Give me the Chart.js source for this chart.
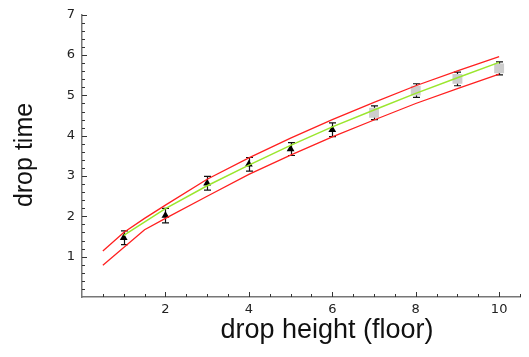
<!DOCTYPE html>
<html>
<head>
<meta charset="utf-8">
<script src="https://cdn.jsdelivr.net/npm/chart.js@4"></script>
<style>
  html, body { margin: 0; padding: 0; background: #fff; }
  #wrap { width: 529px; height: 357px; }
</style>
</head>
<body>
<div id="wrap"><canvas id="c"></canvas></div>
<script>
// measured points (floor number -> drop time)
var triFloors = [1, 2, 3, 4, 5, 6];
var triTimes = [1.47, 2.02, 2.82, 3.29, 3.67, 4.15];
var triErrors = [0.17, 0.18, 0.17, 0.17, 0.16, 0.17];

var sqFloors = [7, 8, 9, 10];
var sqTimes = [4.57, 5.12, 5.41, 5.67];
var sqErrors = [0.17, 0.17, 0.17, 0.16];

// fitted curve and the two bounding curves
var fitX = [1, 2, 3, 4, 5, 6, 7, 8, 9, 10];
var fitY = [1.53, 2.19, 2.76, 3.27, 3.76, 4.22, 4.64, 5.05, 5.44, 5.82];

var upperX = [0.5, 1, 1.5, 2, 3, 4, 5, 6, 7, 8, 9, 10];
var upperY = [1.14, 1.60, 1.95, 2.28, 2.92, 3.45, 3.94, 4.40, 4.83, 5.24, 5.61, 5.96];
var lowerX = [0.5, 1.5, 2, 3, 4, 5, 6, 7, 8, 9, 10];
var lowerY = [0.79, 1.67, 1.95, 2.50, 3.04, 3.52, 3.97, 4.39, 4.80, 5.17, 5.53];

// axis labels
var xTickValues = [2, 4, 6, 8, 10];
var yTickValues = [1, 2, 3, 4, 5, 6, 7];
var xTitle = 'drop height (floor)';
var yTitle = 'drop time';

function toPoints(xs, ys)
{
    var pts = [];
    for (var i = 0; i < xs.length; i++) pts.push({x: xs[i], y: ys[i]});
    return pts;
}

function toTicks(values)
{
    return values.map(function(v) { return {value: v}; });
}

// error bars, drawn under the markers
var errorBars = {
    id: 'errorBars',
    beforeDatasetsDraw: function(chart)
    {
        var ctx = chart.ctx;
        var xs = chart.scales.x, ys = chart.scales.y;
        var sets = [[triFloors, triTimes, triErrors], [sqFloors, sqTimes, sqErrors]];
        ctx.save();
        ctx.strokeStyle = '#111';
        ctx.lineWidth = 1.2;
        for (var s = 0; s < sets.length; s++)
        {
            var fx = sets[s][0], fy = sets[s][1], fe = sets[s][2];
            for (var i = 0; i < fx.length; i++)
            {
                var px = Math.round(xs.getPixelForValue(fx[i])) + 0.5;
                var top = ys.getPixelForValue(fy[i] + fe[i]);
                var bot = ys.getPixelForValue(fy[i] - fe[i]);
                ctx.beginPath();
                ctx.moveTo(px, top); ctx.lineTo(px, bot);
                ctx.moveTo(px - 3.5, top); ctx.lineTo(px + 3.5, top);
                ctx.moveTo(px - 3.5, bot); ctx.lineTo(px + 3.5, bot);
                ctx.stroke();
            }
        }
        ctx.restore();
    }
};

// inward tick marks on both axes, plus the two axis titles
var axisExtras = {
    id: 'axisExtras',
    afterDraw: function(chart)
    {
        var ctx = chart.ctx;
        var xs = chart.scales.x, ys = chart.scales.y;
        var area = chart.chartArea;
        ctx.save();
        ctx.strokeStyle = '#333';
        ctx.lineWidth = 1;
        ctx.beginPath();
        for (var v = 0.5; v <= 10.5; v += 0.5)
        {
            var px = Math.round(xs.getPixelForValue(v)) + 0.5;
            var len = (v % 2 === 0) ? 5 : 3;
            ctx.moveTo(px, area.bottom); ctx.lineTo(px, area.bottom - len);
        }
        for (var k = 1; k <= 35; k++)
        {
            var py = Math.round(ys.getPixelForValue(k * 0.2)) + 0.5;
            var ylen = (k % 5 === 0) ? 5 : 3;
            ctx.moveTo(area.left, py); ctx.lineTo(area.left + ylen, py);
        }
        ctx.stroke();

        ctx.fillStyle = '#111';
        ctx.textAlign = 'center';
        ctx.textBaseline = 'alphabetic';
        ctx.font = '27px "Liberation Sans"';
        ctx.fillText(xTitle, 327, 338);

        ctx.translate(32, 155);
        ctx.rotate(-Math.PI / 2);
        ctx.font = '25px "Liberation Sans"';
        ctx.fillText(yTitle, 0, 0);
        ctx.restore();
    }
};

var tickFont = {family: 'DejaVu Sans', size: 13};

var chart = new Chart(document.getElementById('c').getContext('2d'), {
    type: 'scatter',
    data: {
        datasets: [
            {
                type: 'line',
                data: toPoints(fitX, fitY),
                borderColor: '#9be62e',
                borderWidth: 1.5,
                pointRadius: 0,
                fill: false,
                order: 0
            },
            {
                type: 'line',
                data: toPoints(upperX, upperY),
                borderColor: '#ff2020',
                borderWidth: 1.3,
                pointRadius: 0,
                fill: false,
                order: 0
            },
            {
                type: 'line',
                data: toPoints(lowerX, lowerY),
                borderColor: '#ff2020',
                borderWidth: 1.3,
                pointRadius: 0,
                fill: false,
                order: 0
            },
            {
                data: toPoints(triFloors, triTimes),
                pointStyle: 'triangle',
                pointRadius: 4.5,
                backgroundColor: '#000',
                borderColor: '#000',
                borderWidth: 0,
                order: 1
            },
            {
                data: toPoints(sqFloors, sqTimes),
                pointStyle: 'rect',
                pointRadius: 7,
                backgroundColor: '#cdcdcd',
                borderColor: '#cdcdcd',
                borderWidth: 0,
                order: 1
            }
        ]
    },
    options: {
        responsive: true,
        maintainAspectRatio: false,
        animation: false,
        layout: {padding: {top: 14, right: 9, left: 0, bottom: 0}},
        plugins: {legend: {display: false}, tooltip: {enabled: false}},
        scales: {
            x: {
                type: 'linear',
                min: 0,
                max: 10.5,
                grid: {display: false, drawTicks: false},
                border: {display: true, color: '#777', width: 1.5},
                ticks: {padding: 5, color: '#222', font: tickFont, maxRotation: 0},
                afterBuildTicks: function(scale) { scale.ticks = toTicks(xTickValues); },
                afterFit: function(scale) { scale.height = 60; }
            },
            y: {
                type: 'linear',
                min: 0,
                max: 7,
                grid: {display: false, drawTicks: false},
                border: {display: true, color: '#777', width: 1.5},
                ticks: {padding: 7, color: '#222', font: tickFont},
                afterBuildTicks: function(scale) { scale.ticks = toTicks(yTickValues); },
                afterFit: function(scale) { scale.width = 82; }
            }
        }
    },
    plugins: [errorBars, axisExtras]
});
</script>
</body>
</html>
